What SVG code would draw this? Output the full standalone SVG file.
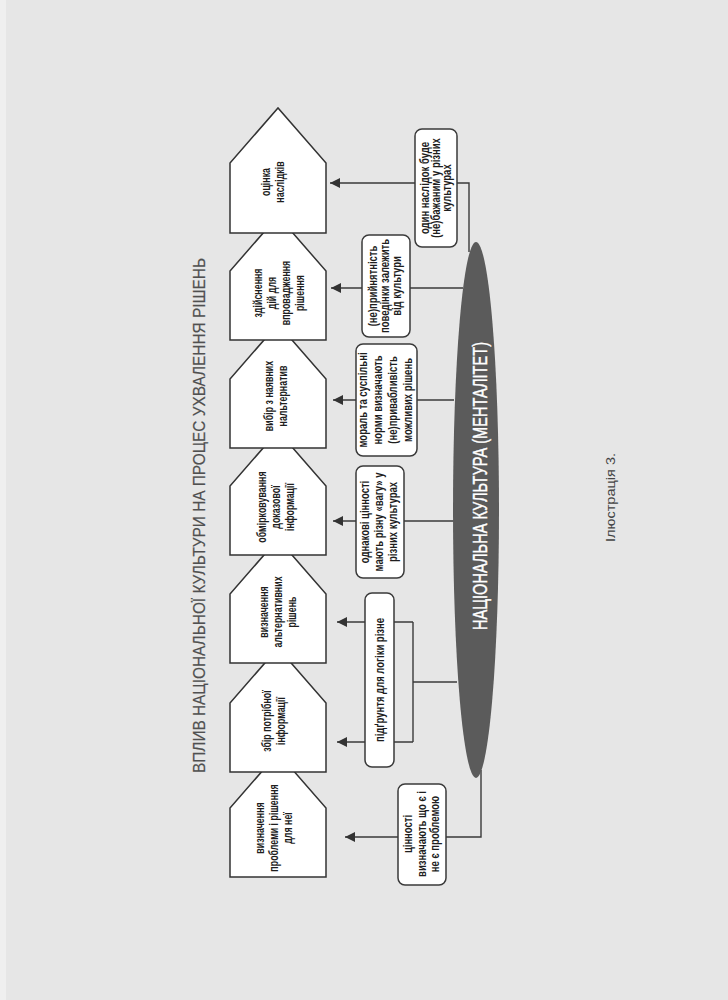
<svg xmlns="http://www.w3.org/2000/svg" width="728" height="1000" viewBox="0 0 728 1000">
<style>
.pent{fill:#ffffff;stroke:#333333;stroke-width:1.5;stroke-linejoin:miter}
.box{fill:#ffffff;stroke:#3a3a3a;stroke-width:1.5}
.conn{fill:none;stroke:#3a3a3a;stroke-width:1.4}
.nt{font-family:"Liberation Sans",Arial,sans-serif;font-weight:bold;font-size:12px;fill:#1e1e1e;text-anchor:middle}
.bt{font-family:"Liberation Sans",Arial,sans-serif;font-weight:bold;font-size:12.5px;fill:#1e1e1e;text-anchor:middle}
.title{font-family:"Liberation Sans",Arial,sans-serif;font-size:17px;fill:#505050;stroke:#505050;stroke-width:0.2;text-anchor:middle}
.main{font-family:"Liberation Sans",Arial,sans-serif;font-size:20px;fill:#ffffff;stroke:#ffffff;stroke-width:0.4;text-anchor:middle}
.cap{font-family:"Liberation Sans",Arial,sans-serif;font-size:13.5px;fill:#444444;text-anchor:middle}
</style>
<defs>
<marker id="arr" markerUnits="userSpaceOnUse" markerWidth="10" markerHeight="10" refX="10" refY="5" orient="auto">
<path d="M0,0 L10,5 L0,10 z" fill="#333333"/>
</marker>
</defs>
<rect x="0" y="0" width="728" height="1000" fill="#e6e6e6"/>
<rect x="0" y="0" width="6" height="1000" fill="#efefef"/>

<text class="title" transform="translate(205,515.5) rotate(-90)" textLength="515" lengthAdjust="spacingAndGlyphs">ВПЛИВ НАЦІОНАЛЬНОЇ КУЛЬТУРИ НА ПРОЦЕС УХВАЛЕННЯ РІШЕНЬ</text>

<g id="connectors">
<path class="conn" d="M469,252 V183 H330" marker-end="url(#arr)"/>
<path class="conn" d="M463,288 H331" marker-end="url(#arr)"/>
<path class="conn" d="M454,400 H333" marker-end="url(#arr)"/>
<path class="conn" d="M454,521 H333" marker-end="url(#arr)"/>
<path class="conn" d="M457,682 H413"/>
<path class="conn" d="M413,622 V742"/>
<path class="conn" d="M413,622 H337" marker-end="url(#arr)"/>
<path class="conn" d="M413,742 H337" marker-end="url(#arr)"/>
<path class="conn" d="M481,770 V837 H345" marker-end="url(#arr)"/>
</g>

<g id="n7">
<polygon class="pent" points="230,877 230,808 278,753 326,808 326,877"/>
<text class="nt" transform="translate(275,828) rotate(-90) scale(0.74,1)"><tspan x="0" dy="-11">визначення</tspan><tspan x="0" dy="14">проблеми і рішення</tspan><tspan x="0" dy="14">для неї</tspan></text>
</g>
<g id="n6">
<polygon class="pent" points="230,772 230,703 278,648 326,703 326,772"/>
<text class="nt" transform="translate(275,721) rotate(-90) scale(0.74,1)"><tspan x="0" dy="-4">збір потрібної</tspan><tspan x="0" dy="14">інформації</tspan></text>
</g>
<g id="n5">
<polygon class="pent" points="230,663 230,594 278,539 326,594 326,663"/>
<text class="nt" transform="translate(279,612) rotate(-90) scale(0.74,1)"><tspan x="0" dy="-11">визначення</tspan><tspan x="0" dy="14">альтернативних</tspan><tspan x="0" dy="14">рішень</tspan></text>
</g>
<g id="n4">
<polygon class="pent" points="230,555 230,486 278,431 326,486 326,555"/>
<text class="nt" transform="translate(277,507) rotate(-90) scale(0.74,1)"><tspan x="0" dy="-11">обмірковування</tspan><tspan x="0" dy="14">доказової</tspan><tspan x="0" dy="14">інформації</tspan></text>
</g>
<g id="n3">
<polygon class="pent" points="230,448 230,379 278,324 326,379 326,448"/>
<text class="nt" transform="translate(276.5,396) rotate(-90) scale(0.74,1)"><tspan x="0" dy="-4">вибір з наявних</tspan><tspan x="0" dy="14">нальтернатив</tspan></text>
</g>
<g id="n2">
<polygon class="pent" points="230,340 230,271 278,216 326,271 326,340"/>
<text class="nt" transform="translate(280,293) rotate(-90) scale(0.74,1)"><tspan x="0" dy="-18">здійснення</tspan><tspan x="0" dy="14">дій для</tspan><tspan x="0" dy="14">впровадження</tspan><tspan x="0" dy="14">рішення</tspan></text>
</g>
<g id="n1">
<polygon class="pent" points="230,233 230,163 278,108 326,163 326,233"/>
<text class="nt" transform="translate(274,182) rotate(-90) scale(0.74,1)"><tspan x="0" dy="-4">оцінка</tspan><tspan x="0" dy="14">наслідків</tspan></text>
</g>

<g id="bA">
<rect class="box" x="415" y="129" width="42" height="118" rx="7"/>
<text class="bt" transform="translate(437,188) rotate(-90) scale(0.76,1)"><tspan x="0" dy="-8.5">один наслідок буде</tspan><tspan x="0" dy="11.5">(не)бажаним у різних</tspan><tspan x="0" dy="11.5">культурах</tspan></text>
</g>
<g id="bB">
<rect class="box" x="362" y="235" width="48" height="102" rx="7"/>
<text class="bt" transform="translate(386,286) rotate(-90) scale(0.76,1)"><tspan x="0" dy="-9.5">(не)прийнятність</tspan><tspan x="0" dy="12.5">поведінки залежить</tspan><tspan x="0" dy="12.5">від культури</tspan></text>
</g>
<g id="bC">
<rect class="box" x="356" y="344" width="61" height="112" rx="7"/>
<text class="bt" transform="translate(386,400) rotate(-90) scale(0.76,1)"><tspan x="0" dy="-19">мораль та суспільні</tspan><tspan x="0" dy="15">норми визначають</tspan><tspan x="0" dy="15">(не)привабливість</tspan><tspan x="0" dy="15">можливих рішень</tspan></text>
</g>
<g id="bD">
<rect class="box" x="356" y="466" width="48" height="112" rx="7"/>
<text class="bt" transform="translate(380,522) rotate(-90) scale(0.76,1)"><tspan x="0" dy="-11">однакові цінності</tspan><tspan x="0" dy="14">мають різну «вагу» у</tspan><tspan x="0" dy="14">різних культурах</tspan></text>
</g>
<g id="bE">
<rect class="box" x="365" y="593" width="29" height="174" rx="7"/>
<text class="bt" transform="translate(379.5,680) rotate(-90) scale(0.76,1)"><tspan x="0" dy="4">підґрунтя для логіки різне</tspan></text>
</g>
<g id="bF">
<rect class="box" x="398" y="784" width="48" height="101" rx="7"/>
<text class="bt" transform="translate(422,834) rotate(-90) scale(0.76,1)"><tspan x="0" dy="-10">цінності</tspan><tspan x="0" dy="13.5">визначають що є і</tspan><tspan x="0" dy="13.5">не є проблемою</tspan></text>
</g>

<g id="culture">
<ellipse cx="476" cy="510" rx="23" ry="268" fill="#5b5b5b"/>
<text class="main" transform="translate(487,486) rotate(-90)" textLength="288" lengthAdjust="spacingAndGlyphs">НАЦІОНАЛЬНА КУЛЬТУРА (МЕНТАЛІТЕТ)</text>
</g>

<text class="cap" transform="translate(615,497.5) rotate(-90)" textLength="89" lengthAdjust="spacingAndGlyphs">Ілюстрація 3.</text>
</svg>
